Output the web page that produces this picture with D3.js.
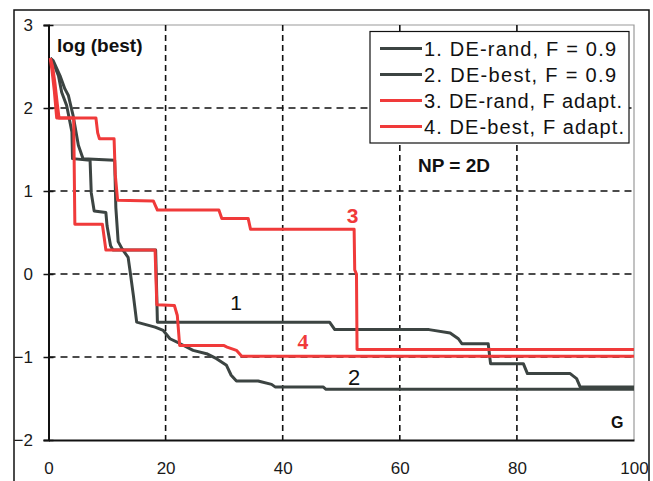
<!DOCTYPE html>
<html>
<head>
<meta charset="utf-8">
<script src="https://cdn.jsdelivr.net/npm/d3@7"></script>
<style>
  body { margin: 0; background: #fff; }
  text { font-family: "Liberation Sans", Arial, sans-serif; }
</style>
</head>
<body>
<svg id="chart" width="653" height="481"></svg>
<script>
"use strict";

// generations / log(best)
const curve_1 = [[0.3,2.6],[0.8,2.55],[1.7,2.39],[2.25,2.19],[3.1,2.03],[4.0,1.71],[4.1,1.39],[7.1,1.37],[7.3,0.98],[7.8,0.76],[9.8,0.74],[10.0,0.58],[10.6,0.34],[11.0,0.29],[18.3,0.29],[18.6,-0.58],[48,-0.58],[48.9,-0.67],[65,-0.67],[68.6,-0.71],[70,-0.78],[70.6,-0.84],[75.1,-0.84],[75.5,-1.08],[81.1,-1.08],[81.8,-1.2],[89.1,-1.2],[90.2,-1.26],[90.8,-1.36],[100,-1.36]];
const curve_2 = [[0.3,2.6],[0.8,2.57],[1.96,2.39],[2.8,2.23],[3.4,2.15],[4.2,1.91],[5.1,1.55],[5.9,1.39],[11.3,1.37],[11.5,0.8],[11.9,0.39],[12.6,0.3],[13.6,0.2],[14.0,0.0],[14.5,-0.26],[15.06,-0.58],[18.2,-0.64],[19.6,-0.68],[20.75,-0.78],[22.5,-0.84],[24.7,-0.92],[27,-0.96],[28.7,-1.02],[30.4,-1.10],[31.2,-1.22],[32.1,-1.29],[35.8,-1.29],[38.1,-1.33],[38.7,-1.36],[46.9,-1.36],[47.4,-1.39],[100,-1.39]];
const curve_3 = [[0.3,2.6],[0.7,2.5],[1.1,2.3],[1.5,2.05],[1.8,1.88],[8.1,1.88],[8.4,1.7],[8.7,1.63],[11.2,1.63],[11.4,1.2],[11.8,0.89],[17.9,0.88],[18.6,0.77],[29.1,0.77],[29.6,0.67],[34.1,0.67],[34.5,0.54],[52.2,0.54],[52.3,0.05],[52.6,0.0],[52.7,-0.91],[100,-0.91]];
const curve_4 = [[0.3,2.6],[0.6,2.45],[1.0,2.2],[1.4,1.88],[4.3,1.88],[4.5,0.6],[9.2,0.6],[9.8,0.29],[18.2,0.29],[18.5,-0.37],[21.5,-0.38],[22.0,-0.5],[22.4,-0.86],[29.9,-0.86],[30.5,-0.88],[32.1,-0.92],[33.0,-0.99],[100,-0.99]];

const legend_names = ["1. DE-rand, F = 0.9", "2. DE-best, F = 0.9", "3. DE-rand, F adapt.", "4. DE-best, F adapt."];
const x_ticks = [0, 20, 40, 60, 80, 100];
const y_ticks = [3, 2, 1, 0, -1, -2];

const dark_col = "#3c4442", red_col = "#f03a3a";
const series = [
  { data: curve_1, color: dark_col },
  { data: curve_2, color: dark_col },
  { data: curve_3, color: red_col },
  { data: curve_4, color: red_col }
];

let chart_svg = d3.select("#chart");

let chart_left = 48.5, chart_right = 634, chart_top = 25, chart_bottom = 440;

let x_scale = d3.scaleLinear().domain([0, 100]).range([chart_left, chart_right]);
let y_scale = d3.scaleLinear().domain([-2, 3]).range([chart_bottom, chart_top]);

// outer frame
chart_svg.append("path")
  .attr("d", "M14,490 L14,10 L649,10 L649,490")
  .attr("fill", "none").attr("stroke", "#111").attr("stroke-width", 1.5);

// plot border top / right (grey)
chart_svg.append("path")
  .attr("d", "M" + chart_left + "," + chart_top + " L" + chart_right + "," + chart_top + " L" + chart_right + "," + chart_bottom)
  .attr("fill", "none").attr("stroke", "#9a9a9a").attr("stroke-width", 1.2);

// grid
chart_svg.append("g").selectAll("line")
  .data(x_ticks.filter(d => d > 0 && d < 100))
  .enter().append("line")
  .attr("x1", d => x_scale(d)).attr("x2", d => x_scale(d))
  .attr("y1", chart_top).attr("y2", chart_bottom)
  .attr("stroke", "#111").attr("stroke-width", 1.6).attr("stroke-dasharray", "6,4");

chart_svg.append("g").selectAll("line")
  .data(y_ticks.filter(d => d > -2 && d < 3))
  .enter().append("line")
  .attr("x1", chart_left).attr("x2", chart_right)
  .attr("y1", d => y_scale(d)).attr("y2", d => y_scale(d))
  .attr("stroke", "#111").attr("stroke-width", 1.6).attr("stroke-dasharray", "7,5");

// axes
let y_axis = chart_svg.append("g")
  .attr("transform", "translate(" + chart_left + ",0)")
  .call(d3.axisLeft(y_scale).tickValues(y_ticks).tickSize(5).tickPadding(10.5).tickFormat(d3.format("d")));
y_axis.select(".domain").attr("stroke", "#111").attr("stroke-width", 2);
y_axis.selectAll("line").attr("x1", 5).attr("x2", -5).attr("stroke", "#111").attr("stroke-width", 1.5);
y_axis.selectAll("text").attr("font-size", 17).attr("fill", "#1a1a1a").style("font-family", "Liberation Sans, Arial");

let x_axis = chart_svg.append("g")
  .attr("transform", "translate(0," + chart_bottom + ")")
  .call(d3.axisBottom(x_scale).tickValues(x_ticks).tickSize(0).tickPadding(21.5));
x_axis.select(".domain").attr("stroke", "#111").attr("stroke-width", 2);
x_axis.selectAll("text").attr("font-size", 17).attr("fill", "#1a1a1a").style("font-family", "Liberation Sans, Arial");

// curves
let mz_line = d3.line().x(d => x_scale(d[0])).y(d => y_scale(d[1]));

chart_svg.append("g").selectAll("path")
  .data(series)
  .enter().append("path")
  .attr("d", d => mz_line(d.data))
  .attr("fill", "none")
  .attr("stroke", d => d.color)
  .attr("stroke-width", 3)
  .attr("stroke-linejoin", "round");

// labels
chart_svg.append("text").attr("x", 57).attr("y", 52).attr("font-size", 19).attr("font-weight", "bold").attr("fill", "#111").text("log (best)");
chart_svg.append("text").attr("x", 418).attr("y", 172).attr("font-size", 19).attr("font-weight", "bold").attr("fill", "#111").text("NP = 2D");
chart_svg.append("text").attr("x", 611).attr("y", 428).attr("font-size", 16).attr("font-weight", "bold").attr("fill", "#111").text("G");
chart_svg.append("text").attr("x", 236).attr("y", 310).attr("text-anchor", "middle").attr("font-size", 21).attr("fill", "#111").text("1");
chart_svg.append("text").attr("x", 354).attr("y", 385).attr("text-anchor", "middle").attr("font-size", 22).attr("fill", "#111").text("2");
chart_svg.append("text").attr("x", 352.5).attr("y", 223).attr("text-anchor", "middle").attr("font-size", 21).attr("font-weight", "bold").attr("fill", red_col).text("3");
chart_svg.append("text").attr("x", 303).attr("y", 349).attr("text-anchor", "middle").attr("font-size", 22).attr("font-weight", "bold").attr("fill", red_col)
  .style("font-family", "Liberation Serif, Times New Roman, serif").text("4");

// legend
let leg = chart_svg.append("g");
leg.append("rect").attr("x", 370).attr("y", 31.5).attr("width", 259).attr("height", 111.5)
  .attr("fill", "#fff").attr("stroke", "#111").attr("stroke-width", 1.2);

const leg_widths = [192, 192, 198, 200];
let leg_rows = leg.selectAll("g.leg_row")
  .data(series)
  .enter().append("g")
  .attr("class", "leg_row")
  .attr("transform", (d, i) => "translate(0," + (48.5 + i * 26) + ")");

leg_rows.append("line")
  .attr("x1", 380).attr("x2", 422).attr("y1", 0).attr("y2", 0)
  .attr("stroke", d => d.color).attr("stroke-width", 3);

leg_rows.append("text")
  .attr("x", 424).attr("y", 7)
  .attr("font-size", 20).attr("fill", "#111")
  .attr("textLength", (d, i) => leg_widths[i]).attr("lengthAdjust", "spacing")
  .text((d, i) => legend_names[i]);
</script>
</body>
</html>
